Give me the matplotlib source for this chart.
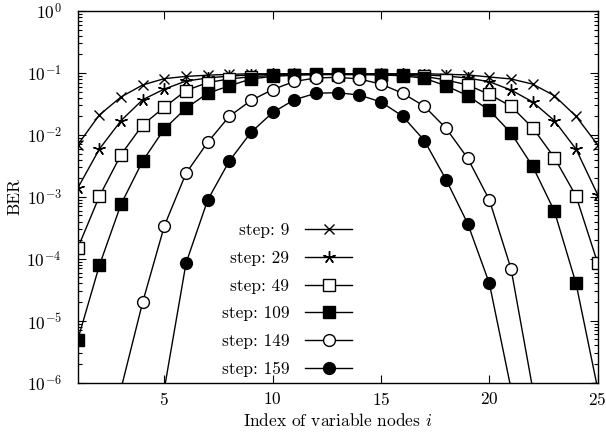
import numpy as np
import matplotlib
matplotlib.use("Agg")
import matplotlib.pyplot as plt
from matplotlib.ticker import NullFormatter, FixedLocator, LogFormatterSciNotation

plt.rcParams['mathtext.fontset'] = 'cm'
plt.rcParams['font.family'] = ['cmr10', 'DejaVu Serif']
plt.rcParams['axes.formatter.use_mathtext'] = True

labels = ["step: 9", "step: 29", "step: 49", "step: 109", "step: 149", "step: 159"]
x_ticks = [5, 10, 15, 20, 25]
y_decades = [-6, -5, -4, -3, -2, -1, 0]

x_9 = list(range(1, 26))
ber_9 = [6.9e-3, 0.021, 0.041, 0.064, 0.081, 0.088, 0.092, 0.095, 0.097, 0.097,
         0.097, 0.097, 0.097, 0.097, 0.097, 0.097, 0.097, 0.095, 0.093, 0.086,
         0.080, 0.066, 0.043, 0.020, 6.9e-3]

x_29 = list(range(1, 26))
ber_29 = [1.38e-3, 5.9e-3, 0.017, 0.037, 0.055, 0.074, 0.083, 0.089, 0.093, 0.095,
          0.096, 0.096, 0.096, 0.096, 0.096, 0.095, 0.093, 0.089, 0.083, 0.072,
          0.053, 0.034, 0.017, 5.9e-3, 1.08e-3]

x_49 = list(range(1, 26))
ber_49 = [1.48e-4, 1.02e-3, 4.8e-3, 0.0145, 0.028, 0.052, 0.070, 0.080, 0.087, 0.091,
          0.094, 0.095, 0.095, 0.095, 0.094, 0.092, 0.088, 0.077, 0.064, 0.045,
          0.029, 0.013, 4.3e-3, 1.03e-3, 8.5e-5]

x_109 = list(range(1, 26))
ber_109 = [4.9e-6, 7.8e-5, 7.6e-4, 3.8e-3, 0.0125, 0.027, 0.047, 0.062, 0.080, 0.088,
           0.092, 0.094, 0.094, 0.094, 0.093, 0.090, 0.082, 0.062, 0.043, 0.025,
           0.0107, 3.1e-3, 5.9e-4, 4.0e-5, 8e-7]

x_149 = list(range(3, 23))
ber_149 = [8e-7, 2.0e-5, 3.4e-4, 2.4e-3, 7.6e-3, 0.020, 0.036, 0.054, 0.073, 0.083,
           0.085, 0.080, 0.066, 0.047, 0.029, 0.0128, 4.2e-3, 8.9e-4, 6.9e-5, 8e-7]

x_159 = list(range(5, 22))
ber_159 = [8e-7, 8.5e-5, 8.9e-4, 3.8e-3, 0.011, 0.023, 0.037, 0.047, 0.048, 0.044,
           0.034, 0.020, 8.1e-3, 1.9e-3, 3.7e-4, 4.0e-5, 8e-7]

FS = 12.5

fig = plt.figure(figsize=(6.06, 4.36), dpi=100)
ax = fig.add_axes([77.7/606, 1-382.7/436, (597.7-77.7)/606, (382.7-11)/436])

common = dict(color='black', lw=1.0, mec='black', mew=1.0)
ax.plot(x_9, ber_9, marker='x', ms=7, label=labels[0], **common)
ax.plot(x_29, ber_29, marker=(5, 2, 0), ms=9, label=labels[1], **common)
ax.plot(x_49, ber_49, marker='s', ms=8, mfc='white', label=labels[2], **common)
ax.plot(x_109, ber_109, marker='s', ms=8, mfc='black', label=labels[3], **common)
ax.plot(x_149, ber_149, marker='o', ms=8.5, mfc='white', label=labels[4], **common)
ax.plot(x_159, ber_159, marker='o', ms=8.5, mfc='black', label=labels[5], **common)

ax.set_yscale('log')
ax.set_xlim(1, 25)
ax.set_ylim(1e-6, 1e0)
ax.xaxis.set_major_locator(FixedLocator(x_ticks))
major_y = [10.0 ** e for e in y_decades]
minor_y = [m * 10.0 ** e for e in y_decades[:-1] for m in range(2, 10)]
ax.yaxis.set_major_locator(FixedLocator(major_y))
ax.yaxis.set_major_formatter(LogFormatterSciNotation(base=10))
ax.yaxis.set_minor_locator(FixedLocator(minor_y))
ax.yaxis.set_minor_formatter(NullFormatter())
ax.tick_params(which='both', direction='in', top=True, right=True, labelsize=FS, width=0.8)
ax.tick_params(which='major', length=5.5)
ax.tick_params(which='minor', length=3)
ax.tick_params(axis='x', pad=6)
ax.tick_params(axis='y', pad=11.5)
for s in ax.spines.values():
    s.set_linewidth(1.0)

ax.set_xlabel('Index of variable nodes $i$', fontsize=FS, labelpad=3)
ax.set_ylabel('BER', fontsize=FS, labelpad=3)

leg = ax.legend(loc='upper right', bbox_to_anchor=(352/606, 1-223/436),
                bbox_transform=fig.transFigure, frameon=False, markerfirst=False,
                fontsize=FS, handlelength=2.7, handletextpad=0.9, labelspacing=0.71,
                borderpad=0, borderaxespad=0)

fig.savefig('out.png', dpi=100)
